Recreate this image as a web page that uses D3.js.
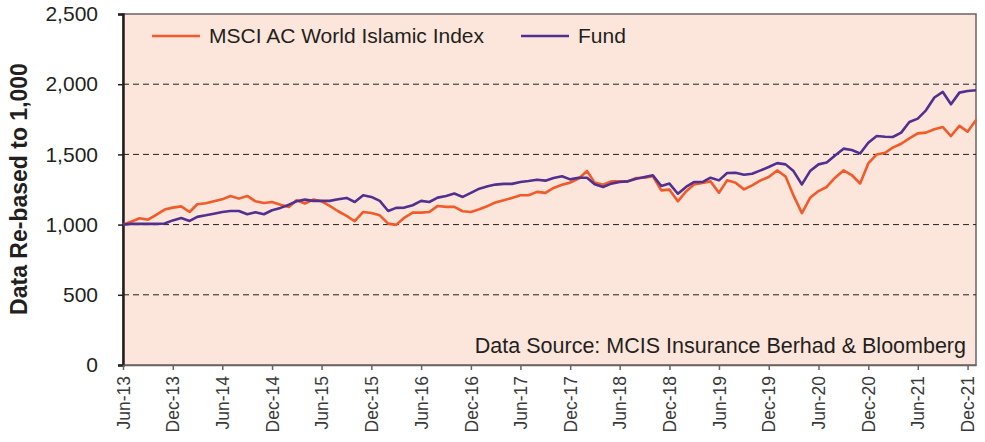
<!DOCTYPE html>
<html lang="en">
<head>
<meta charset="UTF-8">
<title>Fund vs MSCI AC World Islamic Index</title>
<script src="https://d3js.org/d3.v7.min.js"></script>
<style>
    body{ margin:0; background:#fff; }
    svg text{ font-family:"Liberation Sans", Arial, Helvetica, sans-serif; fill:#231f20; }
    .ytick text{ font-size:21px; }
    .xtick text{ font-size:17.5px; fill:#3a3a3a; }
</style>
</head>
<body>
<svg id="chart" width="985" height="442"></svg>
<script>
// monthly points, Jun-13 .. Jan-22
const startMonth = new Date(2013, 5, 1);
const msci = [1000,1020,1045,1035,1070,1107,1121,1130,1090,1145,1152,1166,1180,1204,1185,1204,1166,1154,
    1161,1142,1126,1173,1150,1178,1166,1133,1095,1062,1024,1090,1083,1066,1007,998,1050,1085,1085,1090,
    1133,1126,1126,1095,1090,1109,1133,1157,1173,1190,1209,1209,1233,1226,1261,1284,1299,1327,1382,1299,
    1284,1308,1308,1308,1332,1334,1344,1244,1249,1166,1238,1286,1296,1308,1227,1315,1298,1251,1279,1315,
    1339,1386,1343,1208,1082,1191,1239,1268,1334,1386,1353,1293,1436,1500,1512,1548,1576,1614,1650,1655,
    1679,1695,1631,1703,1662,1745];
const fund = [1000,1005,1005,1005,1005,1008,1030,1047,1026,1055,1066,1078,1090,1097,1097,1074,1088,1074,
    1102,1119,1142,1166,1178,1169,1169,1169,1180,1190,1161,1209,1197,1169,1097,1119,1121,1138,1169,1161,
    1192,1204,1221,1197,1226,1256,1273,1285,1290,1290,1304,1311,1320,1313,1332,1344,1322,1334,1334,1287,
    1268,1292,1303,1308,1327,1339,1351,1275,1292,1220,1270,1303,1303,1334,1315,1367,1369,1355,1362,1386,
    1410,1438,1429,1381,1286,1381,1429,1443,1493,1541,1531,1507,1583,1631,1626,1624,1655,1731,1755,1814,
    1905,1945,1857,1940,1952,1957];
const yTicks = [0,500,1000,1500,2000,2500];
const gridValues = [500,1000,1500,2000];
const seriesNames = ["MSCI AC World Islamic Index", "Fund"];
const seriesColors = ["#f15a29", "#51308f"];
const sourceText = "Data Source: MCIS Insurance Berhad & Bloomberg";
const yTitle = "Data Re-based to 1,000";

const svg = d3.select("#chart");
const plotLeft = 123, plotRight = 976, plotTop = 14, plotBottom = 365;

const monthDate = i => d3.timeMonth.offset(startMonth, i);
const x = d3.scaleTime()
    .domain([startMonth, monthDate(msci.length - 1)])
    .range([plotLeft, plotRight]);
const y = d3.scaleLinear().domain([0, 2500]).range([plotBottom, plotTop]);

// plot background
svg.append("rect")
    .attr("x", plotLeft).attr("y", plotTop)
    .attr("width", plotRight - plotLeft).attr("height", plotBottom - plotTop)
    .attr("fill", "#fce6db")
    .attr("stroke", "#6d6262").attr("stroke-width", 1.5);

// dashed gridlines
svg.append("g").selectAll("line")
    .data(gridValues)
    .join("line")
    .attr("x1", plotLeft).attr("x2", plotRight)
    .attr("y1", d => y(d)).attr("y2", d => y(d))
    .attr("stroke", "#231f20").attr("stroke-width", 1)
    .attr("stroke-dasharray", "6,4");

// y axis
const yAxis = svg.append("g").attr("class", "ytick")
    .attr("transform", `translate(${plotLeft},0)`)
    .call(d3.axisLeft(y).tickValues(yTicks).tickSize(5).tickPadding(20)
        .tickFormat(d3.format(",")));
yAxis.select(".domain").attr("stroke", "#231f20").attr("stroke-width", 2.5);
yAxis.selectAll(".tick line").attr("stroke", "#231f20").attr("stroke-width", 1.5);

// x axis, ticks every 6 months from Jun-13 to Dec-21
const xTickDates = d3.range(0, 103, 6).map(monthDate);
const xAxis = svg.append("g").attr("class", "xtick")
    .attr("transform", `translate(0,${plotBottom})`)
    .call(d3.axisBottom(x).tickValues(xTickDates).tickSize(5).tickSizeOuter(0)
        .tickFormat(d3.timeFormat("%b-%y")));
xAxis.select(".domain").attr("stroke", "#6d6262").attr("stroke-width", 1.5);
xAxis.selectAll(".tick line").attr("stroke", "#6d6262").attr("stroke-width", 1.5);
xAxis.selectAll(".tick text")
    .attr("transform", "rotate(-90)")
    .attr("text-anchor", "end")
    .attr("x", -11).attr("y", 0).attr("dy", "0.35em");

// lines
const line = d3.line().x((d, i) => x(monthDate(i))).y(d => y(d));
[msci, fund].forEach((s, k) => {
    svg.append("path")
        .datum(s)
        .attr("d", line)
        .attr("fill", "none")
        .attr("stroke", seriesColors[k])
        .attr("stroke-width", 2.6)
        .attr("stroke-linejoin", "round");
});

// legend
const legendX = [152, 521];
seriesNames.forEach((name, k) => {
    const g = svg.append("g").attr("transform", `translate(${legendX[k]},36)`);
    g.append("line").attr("x1", 0).attr("x2", 48)
        .attr("stroke", seriesColors[k]).attr("stroke-width", 2.6);
    g.append("text").attr("x", 57).attr("dy", "0.35em")
        .style("font-size", "21px").text(name);
});

// source note
svg.append("text")
    .attr("x", 966).attr("y", 353)
    .attr("text-anchor", "end")
    .style("font-size", "21.5px")
    .text(sourceText);

// y title
svg.append("text")
    .attr("transform", "translate(27,189) rotate(-90)")
    .attr("text-anchor", "middle")
    .style("font-size", "23px").style("font-weight", "bold")
    .text(yTitle);
</script>
</body>
</html>
